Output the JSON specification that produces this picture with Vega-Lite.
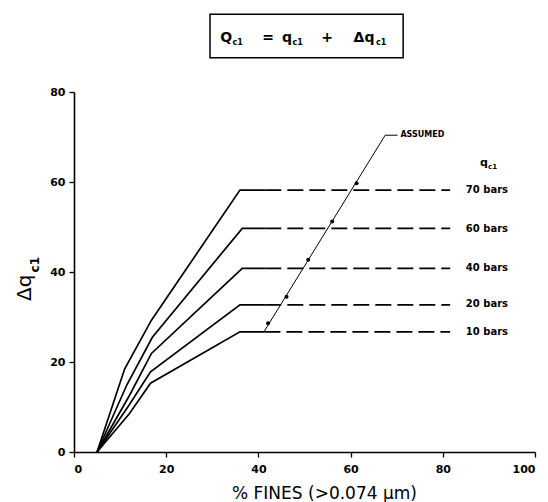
{
  "$schema": "https://vega.github.io/schema/vega-lite/v6.json",
  "width": 461,
  "height": 360,
  "autosize": {"type": "none"},
  "padding": {"left": 74, "top": 92, "right": 13, "bottom": 50},
  "background": "white",
  "config": {
    "view": {"stroke": null},
    "font": "DejaVu Sans",
    "axis": {
      "grid": false,
      "domainColor": "black",
      "domainWidth": 1.6,
      "tickColor": "black",
      "tickWidth": 1.3,
      "tickSize": 5,
      "labelColor": "black",
      "labelFont": "DejaVu Sans",
      "labelFontSize": 11,
      "labelFontWeight": "bold",
      "titleColor": "black"
    }
  },
  "datasets": {
    "curves": [
      {"series": "70", "i": 0, "x": 5, "y": 0},
      {"series": "70", "i": 1, "x": 11, "y": 18.5},
      {"series": "70", "i": 2, "x": 16.8, "y": 29.3},
      {"series": "70", "i": 3, "x": 36, "y": 58.2},
      {"series": "70", "i": 4, "x": 41.5, "y": 58.2},
      {"series": "60", "i": 0, "x": 5, "y": 0},
      {"series": "60", "i": 1, "x": 11.5, "y": 15},
      {"series": "60", "i": 2, "x": 17, "y": 25.5},
      {"series": "60", "i": 3, "x": 36.5, "y": 49.7},
      {"series": "60", "i": 4, "x": 41.5, "y": 49.7},
      {"series": "40", "i": 0, "x": 5, "y": 0},
      {"series": "40", "i": 1, "x": 12, "y": 12.5},
      {"series": "40", "i": 2, "x": 16.8, "y": 21.9},
      {"series": "40", "i": 3, "x": 36.5, "y": 40.8},
      {"series": "40", "i": 4, "x": 41.5, "y": 40.8},
      {"series": "20", "i": 0, "x": 5, "y": 0},
      {"series": "20", "i": 1, "x": 12, "y": 10.5},
      {"series": "20", "i": 2, "x": 16.6, "y": 17.8},
      {"series": "20", "i": 3, "x": 36, "y": 32.7},
      {"series": "20", "i": 4, "x": 41.5, "y": 32.7},
      {"series": "10", "i": 0, "x": 5, "y": 0},
      {"series": "10", "i": 1, "x": 12, "y": 8.5},
      {"series": "10", "i": 2, "x": 16.6, "y": 15.3},
      {"series": "10", "i": 3, "x": 36, "y": 26.7},
      {"series": "10", "i": 4, "x": 41.3, "y": 26.7}
    ],
    "dashes": [
      {"series": "70", "x": 41.5, "y": 58.2},
      {"series": "70", "x": 81.6, "y": 58.2},
      {"series": "60", "x": 41.5, "y": 49.7},
      {"series": "60", "x": 81.6, "y": 49.7},
      {"series": "40", "x": 41.5, "y": 40.8},
      {"series": "40", "x": 81.6, "y": 40.8},
      {"series": "20", "x": 41.5, "y": 32.7},
      {"series": "20", "x": 81.6, "y": 32.7},
      {"series": "10", "x": 41.3, "y": 26.7},
      {"series": "10", "x": 81.6, "y": 26.7}
    ],
    "assumed": [
      {"i": 0, "x": 41.2, "y": 26.7},
      {"i": 1, "x": 67.5, "y": 70.4},
      {"i": 2, "x": 70.2, "y": 70.4}
    ],
    "dots": [
      {"x": 42.1, "y": 28.6},
      {"x": 46.1, "y": 34.5},
      {"x": 50.8, "y": 42.7},
      {"x": 56.0, "y": 51.2},
      {"x": 61.3, "y": 59.7}
    ],
    "labels": [
      {"x": 85, "y": 58.3, "text": "70  bars"},
      {"x": 85, "y": 49.6, "text": "60  bars"},
      {"x": 85, "y": 40.9, "text": "40  bars"},
      {"x": 85, "y": 32.8, "text": "20  bars"},
      {"x": 85, "y": 26.6, "text": "10  bars"}
    ],
    "box": [
      {"x": 29.5, "x2": 71.4, "y": 97.3, "y2": 87.6}
    ],
    "boxMain": [
      {"x": 33.0, "y": 92.0, "text": "Q"},
      {"x": 42.1, "y": 92.0, "text": "="},
      {"x": 46.2, "y": 92.0, "text": "q"},
      {"x": 54.9, "y": 92.0, "text": "+"},
      {"x": 62.9, "y": 92.0, "text": "Δq"}
    ],
    "boxSub": [
      {"x": 34.4, "y": 90.9, "text": "c1"},
      {"x": 47.4, "y": 90.9, "text": "c1"},
      {"x": 65.5, "y": 90.9, "text": "c1"}
    ],
    "yTitleMain": [{"x": -10.6, "y": 36.5, "text": "Δq"}],
    "yTitleSub": [{"x": -8.5, "y": 39.9, "text": "c1"}],
    "headMain": [{"x": 88.9, "y": 64.2, "text": "q"}],
    "headSub": [{"x": 89.8, "y": 63.3, "text": "c1"}],
    "assumedLabel": [{"x": 70.8, "y": 70.4, "text": "ASSUMED"}]
  },
  "layer": [
    {
      "data": {"name": "curves"},
      "mark": {"type": "line", "color": "black", "strokeWidth": 1.7},
      "encoding": {
        "x": {
          "field": "x", "type": "quantitative",
          "scale": {"domain": [0, 100], "nice": false},
          "axis": {
            "values": [0, 20, 40, 60, 80, 100],
            "title": "% FINES (>0.074 μm)",
            "titleFont": "DejaVu Sans",
            "titleFontSize": 17,
            "titleFontWeight": "normal",
            "titleX": 250,
            "titleY": 46,
            "titleBaseline": "alphabetic",
            "labelPadding": 6
          }
        },
        "y": {
          "field": "y", "type": "quantitative",
          "scale": {"domain": [0, 80], "nice": false},
          "axis": {"values": [0, 20, 40, 60, 80], "title": null, "labelPadding": 4}
        },
        "detail": {"field": "series"},
        "order": {"field": "i"}
      }
    },
    {
      "data": {"name": "dashes"},
      "mark": {"type": "line", "color": "black", "strokeWidth": 1.7, "strokeDash": [16, 6]},
      "encoding": {
        "x": {"field": "x", "type": "quantitative"},
        "y": {"field": "y", "type": "quantitative"},
        "detail": {"field": "series"}
      }
    },
    {
      "data": {"name": "assumed"},
      "mark": {"type": "line", "color": "black", "strokeWidth": 1},
      "encoding": {
        "x": {"field": "x", "type": "quantitative"},
        "y": {"field": "y", "type": "quantitative"},
        "order": {"field": "i"}
      }
    },
    {
      "data": {"name": "dots"},
      "mark": {"type": "point", "filled": true, "color": "black", "size": 16, "opacity": 1},
      "encoding": {
        "x": {"field": "x", "type": "quantitative"},
        "y": {"field": "y", "type": "quantitative"}
      }
    },
    {
      "data": {"name": "labels"},
      "mark": {"type": "text", "align": "left", "baseline": "middle", "fontSize": 10, "fontWeight": "bold", "color": "black"},
      "encoding": {
        "x": {"field": "x", "type": "quantitative"},
        "y": {"field": "y", "type": "quantitative"},
        "text": {"field": "text"}
      }
    },
    {
      "data": {"name": "box"},
      "mark": {"type": "rect", "fill": "transparent", "stroke": "black", "strokeWidth": 1.5},
      "encoding": {
        "x": {"field": "x", "type": "quantitative"},
        "x2": {"field": "x2"},
        "y": {"field": "y", "type": "quantitative"},
        "y2": {"field": "y2"}
      }
    },
    {
      "data": {"name": "boxMain"},
      "mark": {"type": "text", "align": "center", "baseline": "middle", "fontSize": 14, "fontWeight": "bold", "color": "black"},
      "encoding": {
        "x": {"field": "x", "type": "quantitative"},
        "y": {"field": "y", "type": "quantitative"},
        "text": {"field": "text"}
      }
    },
    {
      "data": {"name": "boxSub"},
      "mark": {"type": "text", "align": "left", "baseline": "middle", "fontSize": 8, "fontWeight": "bold", "color": "black"},
      "encoding": {
        "x": {"field": "x", "type": "quantitative"},
        "y": {"field": "y", "type": "quantitative"},
        "text": {"field": "text"}
      }
    },
    {
      "data": {"name": "yTitleMain"},
      "mark": {"type": "text", "align": "center", "baseline": "middle", "angle": 270, "fontSize": 20, "color": "black"},
      "encoding": {
        "x": {"field": "x", "type": "quantitative"},
        "y": {"field": "y", "type": "quantitative"},
        "text": {"field": "text"}
      }
    },
    {
      "data": {"name": "yTitleSub"},
      "mark": {"type": "text", "align": "left", "baseline": "middle", "angle": 270, "fontSize": 12, "fontWeight": "bold", "color": "black"},
      "encoding": {
        "x": {"field": "x", "type": "quantitative"},
        "y": {"field": "y", "type": "quantitative"},
        "text": {"field": "text"}
      }
    },
    {
      "data": {"name": "headMain"},
      "mark": {"type": "text", "align": "center", "baseline": "middle", "fontSize": 11, "fontWeight": "bold", "color": "black"},
      "encoding": {
        "x": {"field": "x", "type": "quantitative"},
        "y": {"field": "y", "type": "quantitative"},
        "text": {"field": "text"}
      }
    },
    {
      "data": {"name": "headSub"},
      "mark": {"type": "text", "align": "left", "baseline": "middle", "fontSize": 7, "fontWeight": "bold", "color": "black"},
      "encoding": {
        "x": {"field": "x", "type": "quantitative"},
        "y": {"field": "y", "type": "quantitative"},
        "text": {"field": "text"}
      }
    },
    {
      "data": {"name": "assumedLabel"},
      "mark": {"type": "text", "align": "left", "baseline": "middle", "fontSize": 8, "fontWeight": "bold", "color": "black"},
      "encoding": {
        "x": {"field": "x", "type": "quantitative"},
        "y": {"field": "y", "type": "quantitative"},
        "text": {"field": "text"}
      }
    }
  ]
}
